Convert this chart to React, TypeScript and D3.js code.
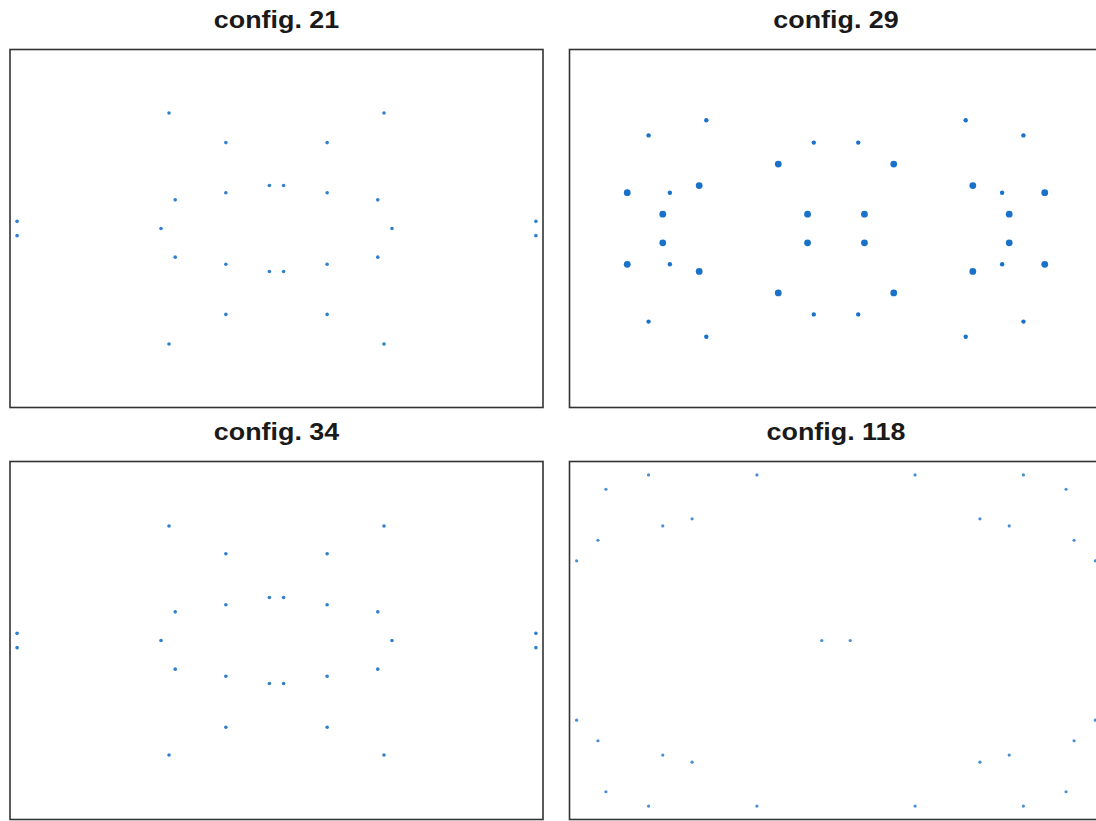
import React from 'react';
import * as d3 from 'd3';

// point configurations, [x, y] in layout units (x in [-3,3], y in [-2,2])
const config21: [number, number][] = [
  [-1.21, 1.29], [1.21, 1.29],
  [-0.57, 0.96], [0.57, 0.96],
  [-0.08, 0.48], [0.08, 0.48],
  [-0.57, 0.4], [0.57, 0.4],
  [-1.14, 0.32], [1.14, 0.32],
  [-2.92, 0.08], [2.92, 0.08],
  [-1.3, 0], [1.3, 0],
  [-2.92, -0.08], [2.92, -0.08],
  [-1.14, -0.32], [1.14, -0.32],
  [-0.57, -0.4], [0.57, -0.4],
  [-0.08, -0.48], [0.08, -0.48],
  [-0.57, -0.96], [0.57, -0.96],
  [-1.21, -1.29], [1.21, -1.29],
];

const config34: [number, number][] = [
  [-1.21, 1.28], [1.21, 1.28],
  [-0.57, 0.97], [0.57, 0.97],
  [-0.08, 0.48], [0.08, 0.48],
  [-0.57, 0.4], [0.57, 0.4],
  [-1.14, 0.32], [1.14, 0.32],
  [-2.92, 0.08], [2.92, 0.08],
  [-1.3, 0], [1.3, 0],
  [-2.92, -0.08], [2.92, -0.08],
  [-1.14, -0.32], [1.14, -0.32],
  [-0.57, -0.4], [0.57, -0.4],
  [-0.08, -0.48], [0.08, -0.48],
  [-0.57, -0.97], [0.57, -0.97],
  [-1.21, -1.28], [1.21, -1.28],
];

// config 29 has two point sizes
const config29Small: [number, number][] = [
  [-1.46, 1.21], [1.46, 1.21],
  [-2.11, 1.04], [2.11, 1.04],
  [-0.25, 0.96], [0.25, 0.96],
  [-1.87, 0.4], [1.87, 0.4],
  [-1.87, -0.4], [1.87, -0.4],
  [-0.25, -0.96], [0.25, -0.96],
  [-2.11, -1.04], [2.11, -1.04],
  [-1.46, -1.21], [1.46, -1.21],
];

const config29Big: [number, number][] = [
  [-0.65, 0.72], [0.65, 0.72],
  [-1.54, 0.48], [1.54, 0.48],
  [-2.35, 0.4], [2.35, 0.4],
  [-1.95, 0.16], [-0.32, 0.16], [0.32, 0.16], [1.95, 0.16],
  [-1.95, -0.16], [-0.32, -0.16], [0.32, -0.16], [1.95, -0.16],
  [-2.35, -0.4], [2.35, -0.4],
  [-1.54, -0.48], [1.54, -0.48],
  [-0.65, -0.72], [0.65, -0.72],
];

const config118: [number, number][] = [
  [-2.11, 1.85], [-0.89, 1.85], [0.89, 1.85], [2.11, 1.85],
  [-2.59, 1.69], [2.59, 1.69],
  [-1.62, 1.36], [1.62, 1.36],
  [-1.95, 1.28], [1.95, 1.28],
  [-2.68, 1.12], [2.68, 1.12],
  [-2.92, 0.89], [2.92, 0.89],
  [-0.16, 0], [0.16, 0],
  [-2.92, -0.89], [2.92, -0.89],
  [-2.68, -1.12], [2.68, -1.12],
  [-1.95, -1.28], [1.95, -1.28],
  [-1.62, -1.36], [1.62, -1.36],
  [-2.59, -1.69], [2.59, -1.69],
  [-2.11, -1.85], [-0.89, -1.85], [0.89, -1.85], [2.11, -1.85],
];

const titles = ['config. 21', 'config. 29', 'config. 34', 'config. 118'];

const W = 1096;
const H = 821;
const panelW = 533;
const panelH = 358;
const colX = [10, 569.5];
const rowY = [49.5, 461.5];
const dotColor = '#1a72c8';

type Layer = { pts: [number, number][]; r: number; op: number };

const panels: { title: string; col: number; row: number; layers: Layer[] }[] = [
  { title: titles[0], col: 0, row: 0, layers: [{ pts: config21, r: 1.8, op: 0.9 }] },
  {
    title: titles[1], col: 1, row: 0,
    layers: [{ pts: config29Small, r: 2.2, op: 1 }, { pts: config29Big, r: 3.4, op: 1 }],
  },
  { title: titles[2], col: 0, row: 1, layers: [{ pts: config34, r: 1.8, op: 0.9 }] },
  { title: titles[3], col: 1, row: 1, layers: [{ pts: config118, r: 1.6, op: 0.8 }] },
];

const x = d3.scaleLinear().domain([-3, 3]).range([0, panelW]);
const y = d3.scaleLinear().domain([-2, 2]).range([panelH, 0]);

export default function App() {
  return (
    <svg
      width={W}
      height={H}
      style={{ position: 'absolute', left: 0, top: 0, background: '#fff' }}
      fontFamily="'Liberation Sans', Arial, Helvetica, sans-serif"
    >
      {panels.map((p) => (
        <g key={p.title} transform={`translate(${colX[p.col]},${rowY[p.row]})`}>
          {/* titles in the original look a bit stretched sideways */}
          <text
            transform={`translate(${panelW / 2},-22) scale(1.12,1)`}
            textAnchor="middle"
            fontWeight="bold"
            fontSize={24}
            fill="#1a1a1a"
          >
            {p.title}
          </text>
          <rect width={panelW} height={panelH} fill="none" stroke="#333" strokeWidth={1.6} />
          {p.layers.map((l, li) =>
            l.pts.map((d, i) => (
              <circle
                key={`${li}-${i}`}
                cx={x(d[0])}
                cy={y(d[1])}
                r={l.r}
                fill={dotColor}
                fillOpacity={l.op}
              />
            ))
          )}
        </g>
      ))}
    </svg>
  );
}
